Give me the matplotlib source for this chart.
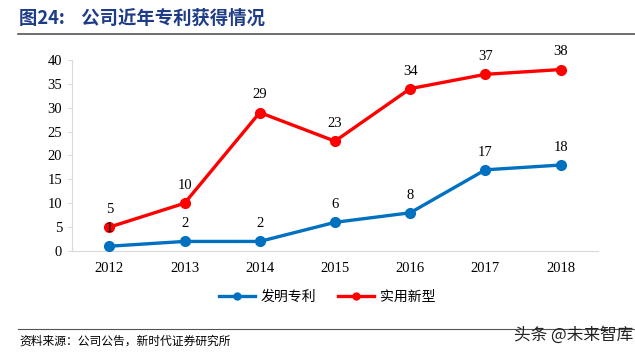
import numpy as np
import matplotlib.pyplot as plt
from matplotlib.lines import Line2D

# chart data
years = ["2012", "2013", "2014", "2015", "2016", "2017", "2018"]
invention = [1, 2, 2, 6, 8, 17, 18]
utility = [5, 10, 29, 23, 34, 37, 38]

cjk = ["Noto Sans CJK SC", "DejaVu Sans"]
serif = ["Liberation Serif", "DejaVu Serif"]

fig = plt.figure(figsize=(6.35, 3.53), dpi=100)
ax = fig.add_axes([0.113, 0.289, 0.829, 0.541])

x = np.arange(len(years))
blue = "#0070C0"
red = "#FF0000"
ax.plot(x, invention, color=blue, lw=2.4, marker="o", ms=7, zorder=3)
ax.plot(x, utility, color=red, lw=2.4, marker="o", ms=7, zorder=3)

for xi, v in zip(x, invention):
    ax.annotate(str(v), (xi, v), xytext=(0, 8), textcoords="offset points",
                ha="center", va="bottom", fontsize=10.5, family=serif, zorder=4)
for xi, v in zip(x, utility):
    ax.annotate(str(v), (xi, v), xytext=(0, 8), textcoords="offset points",
                ha="center", va="bottom", fontsize=10.5, family=serif, zorder=4)

ax.set_xlim(-0.5, 6.5)
ax.set_ylim(0, 40)
ax.set_yticks(range(0, 41, 5))
ax.set_xticks(x)
ax.set_xticklabels(years)
for lab in ax.get_xticklabels() + ax.get_yticklabels():
    lab.set_family(serif)
    lab.set_fontsize(10.5)
ax.tick_params(axis="x", length=0, pad=8)
ax.tick_params(axis="y", length=3, color="#D9D9D9", pad=4)
for s in ["top", "right"]:
    ax.spines[s].set_visible(False)
ax.spines["left"].set_color("#D9D9D9")
ax.spines["bottom"].set_color("#D9D9D9")

handles = [Line2D([], [], color=blue, lw=2.4, marker="o", ms=5),
           Line2D([], [], color=red, lw=2.4, marker="o", ms=5)]
fig.legend(handles, ["发明专利", "实用新型"], loc="center", bbox_to_anchor=(0.515, 0.158),
           ncol=2, frameon=False, prop={"family": cjk, "size": 10},
           handlelength=2.6, columnspacing=1.6, handletextpad=0.4)

# title and footer
fig.text(0.03, 0.948, "图24:    公司近年专利获得情况", color="#1F3C88", fontsize=13.2,
         fontweight="bold", family=cjk, va="center")
fig.add_artist(Line2D([0.028, 1.0], [0.905, 0.905], color="#555555", lw=1.2))
fig.add_artist(Line2D([0.028, 1.0], [0.068, 0.068], color="#555555", lw=0.8))
fig.text(0.03, 0.035, "资料来源：公司公告，新时代证券研究所", fontsize=8.5, family=cjk, va="center")
fig.text(0.998, 0.05, "头条 @未来智库", fontsize=12, family=cjk, va="center", ha="right",
         color="#222222")

fig.savefig("out.png", dpi=100)
